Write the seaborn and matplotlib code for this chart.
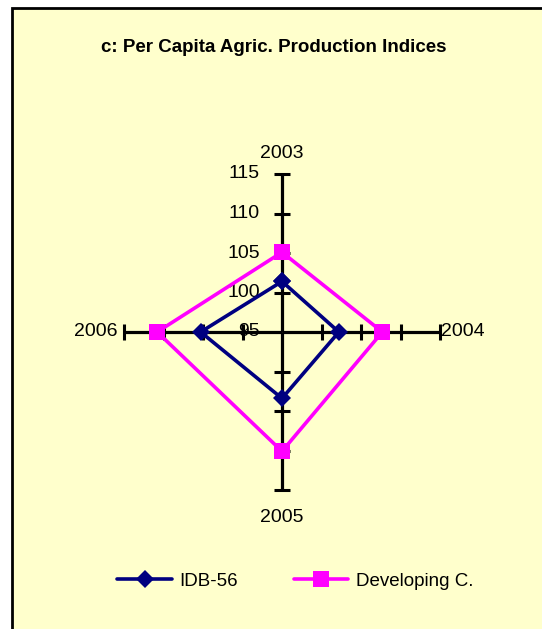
import numpy as np
import pandas as pd
import seaborn as sns
import matplotlib.pyplot as plt
from matplotlib.patches import Rectangle

# data
years = ['2003', '2004', '2005', '2006']
idb56 = [101.4, 102.2, 103.4, 105.3]
developing = [105.1, 107.7, 110.1, 110.8]
r_ticks = [95, 100, 105, 110, 115]

sns.set_style('white')
plt.rcParams['font.family'] = ['Liberation Sans', 'DejaVu Sans']
plt.rcParams['text.color'] = 'black'

# angles for each spoke (clockwise from top), loop closed back on first point
theta = np.arange(len(years)) * 2 * np.pi / len(years)
theta_closed = np.append(theta, 2 * np.pi)

df = pd.concat([
    pd.DataFrame({'theta': theta_closed, 'value': idb56 + idb56[:1], 'series': 'IDB-56'}),
    pd.DataFrame({'theta': theta_closed, 'value': developing + developing[:1], 'series': 'Developing C.'}),
])

fig = plt.figure(figsize=(5.42, 6.29), dpi=100, facecolor='white')
fig.patches.append(Rectangle((12 / 542, -0.01), 1.0, 1 - 8 / 629 + 0.01, transform=fig.transFigure,
                             facecolor='#FFFFCC', edgecolor='black', linewidth=2, zorder=-5))

fig.text(0.505, 1 - 47 / 629, 'c: Per Capita Agric. Production Indices', ha='center', va='center',
         fontsize=13.5, fontweight='bold', color='black')

cx, cy, rad = 282 / 542, 1 - 332 / 629, 158
ax = fig.add_axes([cx - rad / 542, cy - rad / 629, 2 * rad / 542, 2 * rad / 629], projection='polar')
ax.set_facecolor('none')
ax.set_theta_zero_location('N')
ax.set_theta_direction(-1)
ax.set_rlim(r_ticks[0], r_ticks[-1])
ax.grid(False)
ax.spines['polar'].set_visible(False)
ax.set_xticks([])
ax.set_yticks([])

# spokes with tick marks
for i, t in enumerate(theta):
    ax.plot([t, t], [r_ticks[0], r_ticks[-1]], color='black', lw=2.3, zorder=2, solid_capstyle='butt')
    mk = '_' if i % 2 == 0 else '|'
    ax.plot([t] * (len(r_ticks) - 1), r_ticks[1:], linestyle='none', marker=mk, markersize=12,
            markeredgewidth=2.2, color='black', zorder=2, clip_on=False)

# radial labels on the top spoke
for r in r_ticks:
    ax.annotate(str(r), xy=(0, r), xytext=(-16, 0), textcoords='offset points',
                ha='right', va='center', fontsize=14, zorder=1)

# year labels at spoke ends
offsets = [(0, 9, 'center', 'bottom'), (1, 0, 'left', 'center'),
           (0, -14, 'center', 'top'), (-5, 0, 'right', 'center')]
for t, yr, (dx, dy, ha, va) in zip(theta, years, offsets):
    ax.annotate(yr, xy=(t, r_ticks[-1]), xytext=(dx, dy), textcoords='offset points',
                ha=ha, va=va, fontsize=14)

sns.lineplot(data=df, x='theta', y='value', hue='series', style='series', ax=ax,
             palette={'IDB-56': '#000080', 'Developing C.': '#FF00FF'},
             markers={'IDB-56': 'D', 'Developing C.': 's'}, dashes=False,
             markersize=9, markeredgewidth=0, lw=2.6, zorder=3, estimator=None, sort=False)
for line in ax.get_lines():
    if line.get_marker() in ('D', 's'):
        line.set_clip_on(False)
    if line.get_marker() == 's':
        line.set_markersize(11.5)
ax.set_xlabel('')
ax.set_ylabel('')
ax.set_rlim(r_ticks[0], r_ticks[-1])
ax.set_xticks([])
ax.set_yticks([])

handles, labels = ax.get_legend_handles_labels()
ax.get_legend().remove()
for h in handles:
    h.set_linewidth(2.6)
    h.set_markersize(11.5 if h.get_marker() == 's' else 9)
fig.legend(handles, labels, loc='center', bbox_to_anchor=(0.545, 1 - 581 / 629), ncol=2,
           frameon=False, fontsize=13.5, handlelength=2.9, handletextpad=0.4, columnspacing=3.0)

fig.savefig('out.png', dpi=100, facecolor=fig.get_facecolor())
